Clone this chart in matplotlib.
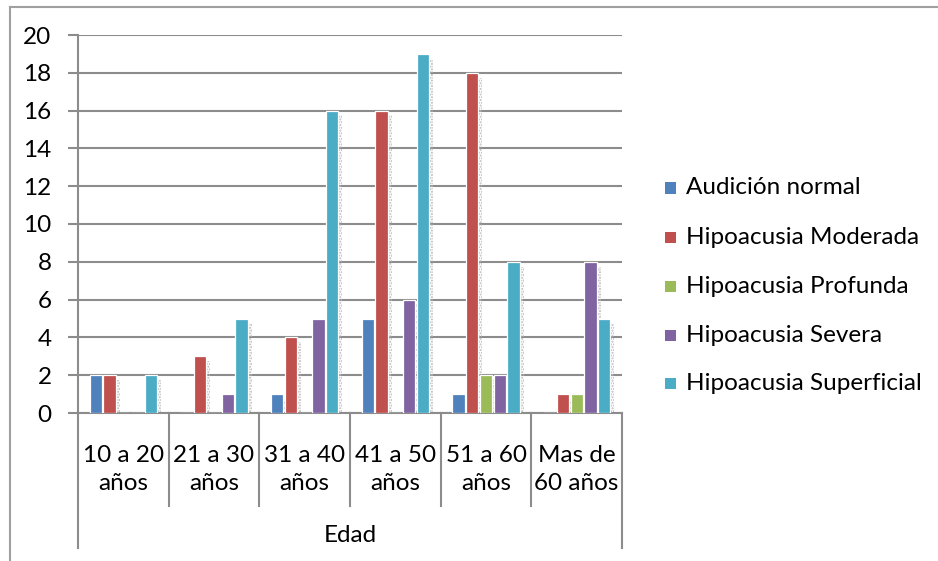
import matplotlib
matplotlib.use("Agg")
import matplotlib.pyplot as plt
import numpy as np
from matplotlib.lines import Line2D
from matplotlib.patches import Rectangle
import matplotlib.transforms as mtransforms

# Datos: pacientes por grupo de edad y grado de audición
grupos = ["10 a 20\naños", "21 a 30\naños", "31 a 40\naños",
          "41 a 50\naños", "51 a 60\naños", "Mas de\n60 años"]
series = ["Audición normal", "Hipoacusia Moderada", "Hipoacusia Profunda",
          "Hipoacusia Severa", "Hipoacusia Superficial"]
audicion_normal = [2, 0, 1, 5, 1, 0]
hipo_moderada = [2, 3, 4, 16, 18, 1]
hipo_profunda = [0, 0, 0, 0, 2, 1]
hipo_severa = [0, 1, 5, 6, 2, 8]
hipo_superficial = [2, 5, 16, 19, 8, 5]
valores = [audicion_normal, hipo_moderada, hipo_profunda, hipo_severa, hipo_superficial]
colores = ["#4F81BD", "#C0504D", "#9BBB59", "#8064A2", "#4BACC6"]
eje_titulo = "Edad"

GRIS = "#8c8c8c"
FUENTE = ["Lato", "DejaVu Sans"]
TAM = 17.5
plt.rcParams["font.family"] = FUENTE
plt.rcParams["hatch.linewidth"] = 1.0

W, H = 938, 561
fig = plt.figure(figsize=(W / 100, H / 100), dpi=100)
ax = fig.add_axes([78 / W, (H - 413) / H, 544 / W, 378 / H])

x = np.arange(len(grupos))
paso = 0.152
ancho = 0.135
desp_sombra = 4 / 90.7  # unos 4 px hacia la derecha

for i, (nombre, vals, col) in enumerate(zip(series, valores, colores)):
    pos = x + (i - 2) * paso
    vals = np.array(vals, dtype=float)
    # sombra punteada detrás de cada barra
    alto_sombra = np.where(vals > 0, np.maximum(vals - 0.25, 0), 0)
    ax.bar(pos + desp_sombra, alto_sombra, ancho, facecolor="none",
           edgecolor="#b4b4b4", linewidth=0, hatch="......", zorder=2)
    ax.bar(pos, vals, ancho, color=col, edgecolor="white", linewidth=0.9,
           zorder=3, label=nombre)

ax.set_xlim(-0.5, len(grupos) - 0.5)
ax.set_ylim(0, 20)
ax.set_yticks(range(0, 21, 2))
ax.yaxis.grid(True, color=GRIS, linewidth=1.5, zorder=0)
ax.set_axisbelow(True)
ax.set_xticks([])
ax.tick_params(axis="y", length=7, width=1.5, color=GRIS, pad=12,
               labelsize=TAM)
for lado in ["top", "right"]:
    ax.spines[lado].set_visible(False)
for lado in ["left", "bottom"]:
    ax.spines[lado].set_color(GRIS)
    ax.spines[lado].set_linewidth(1.5)

# separadores de categorías bajo el eje
trans = mtransforms.blended_transform_factory(ax.transData, ax.transAxes)
for b in np.arange(-0.5, len(grupos), 1.0):
    fondo = -0.357 if b in (-0.5, len(grupos) - 0.5) else -0.246
    ax.add_line(Line2D([b, b], [0, fondo], transform=trans, color=GRIS,
                       linewidth=1.5, clip_on=False))

for xi, etiqueta in zip(x, grupos):
    linea1, linea2 = etiqueta.split("\n")
    ax.text(xi, -42 / 378, linea1, transform=trans, ha="center", va="center",
            fontsize=TAM)
    ax.text(xi, -70 / 378, linea2, transform=trans, ha="center", va="center",
            fontsize=TAM)

ax.text(0.5, -122 / 378, eje_titulo, transform=ax.transAxes, ha="center",
        va="center", fontsize=TAM)

# leyenda a la derecha
filas_y = [188, 237.5, 286.5, 335, 383]
for nombre, col, yy in zip(series, colores, filas_y):
    fig.patches.append(Rectangle((665 / W, (H - yy - 5.5) / H), 11 / W, 11 / H,
                                 transform=fig.transFigure, facecolor=col,
                                 edgecolor="none"))
    fig.text(686 / W, (H - yy) / H, nombre, ha="left", va="center",
             fontsize=TAM)

# marco exterior del gráfico
fig.add_artist(Line2D([10 / W, 10 / W], [0, (H - 7) / H], color="#a0a0a0",
                      linewidth=1.5, transform=fig.transFigure))
fig.add_artist(Line2D([10 / W, 1], [(H - 7) / H, (H - 7) / H], color="#a0a0a0",
                      linewidth=1.5, transform=fig.transFigure))

fig.savefig("out.png", dpi=100, facecolor="white")
